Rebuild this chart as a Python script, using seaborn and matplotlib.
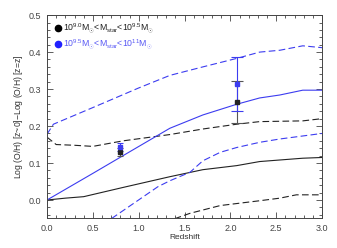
import numpy as np
import pandas as pd
import seaborn as sns
import matplotlib.pyplot as plt
from matplotlib.ticker import MultipleLocator
from matplotlib.lines import Line2D

# curves
z_bs = [0.0, 0.2, 0.4, 0.83, 1.34, 1.7, 2.07, 2.32, 2.79, 3.0]
bs = [0.0, 0.005, 0.009, 0.034, 0.063, 0.082, 0.093, 0.104, 0.113, 0.115]

z_bdu = [0.0, 0.1, 0.3, 0.5, 0.83, 1.34, 1.7, 2.07, 2.32, 2.79, 3.0]
bdu = [0.17, 0.15, 0.148, 0.145, 0.16, 0.177, 0.192, 0.205, 0.212, 0.214, 0.22]

z_bdl = [1.3, 1.4, 1.56, 1.89, 2.32, 2.54, 2.72, 3.0]
bdl = [-0.065, -0.05, -0.036, -0.015, -0.002, 0.005, 0.014, 0.014]

z_us = [0.0, 0.5, 0.83, 1.34, 1.7, 2.07, 2.32, 2.54, 2.79, 3.0]
us = [0.0, 0.072, 0.12, 0.194, 0.23, 0.259, 0.276, 0.284, 0.297, 0.297]

z_udu = [0.0, 0.07, 0.5, 1.0, 1.34, 1.7, 2.07, 2.32, 2.54, 2.79, 3.0]
udu = [0.178, 0.205, 0.25, 0.303, 0.337, 0.36, 0.383, 0.4, 0.405, 0.417, 0.412]

z_udl = [0.705, 1.21, 1.34, 1.56, 1.7, 1.89, 2.07, 2.32, 2.54, 3.0]
udl = [-0.05, 0.036, 0.052, 0.075, 0.106, 0.129, 0.142, 0.156, 0.165, 0.18]

# observed points
obs_z_black = [0.8, 2.07]
obs_black = [0.13, 0.265]
obs_black_err = [0.01, 0.057]
obs_z_blue = [0.8, 2.07]
obs_blue = [0.143, 0.313]
obs_blue_err = [0.01, 0.073]

black = '#222222'
blue = '#3c3cf0'

sns.set_style('ticks')
plt.rcParams['font.family'] = ['Liberation Sans', 'DejaVu Sans']
plt.rcParams['mathtext.fontset'] = 'custom'
plt.rcParams['mathtext.rm'] = 'Liberation Sans'

fig = plt.figure(figsize=(3.37, 2.48), dpi=100)
ax = fig.add_axes([0.1395, 0.119, 0.816, 0.82])

sns.lineplot(x=z_bs, y=bs, ax=ax, color=black, lw=0.8)
sns.lineplot(x=z_bdu, y=bdu, ax=ax, color=black, lw=0.8, linestyle=(0, (6, 3)))
sns.lineplot(x=z_bdl, y=bdl, ax=ax, color=black, lw=0.8, linestyle=(0, (6, 3)))
sns.lineplot(x=z_us, y=us, ax=ax, color=blue, lw=0.8)
sns.lineplot(x=z_udu, y=udu, ax=ax, color=blue, lw=0.8, linestyle=(0, (6, 3)))
sns.lineplot(x=z_udl, y=udl, ax=ax, color=blue, lw=0.8, linestyle=(0, (6, 3)))

caps = [2.0, 4.5]
for i in range(len(obs_z_black)):
    ax.errorbar(obs_z_black[i], obs_black[i], yerr=obs_black_err[i], fmt='s', ms=2.2,
                color=black, ecolor='#555555', elinewidth=0.8, capsize=caps[i], capthick=0.8)
    ax.errorbar(obs_z_blue[i], obs_blue[i], yerr=obs_blue_err[i], fmt='s', ms=2.2,
                color=blue, ecolor=blue, elinewidth=0.8, capsize=caps[i], capthick=0.8)

ax.set_xlim(0, 3.0)
ax.set_ylim(-0.05, 0.5)
ax.xaxis.set_major_locator(MultipleLocator(0.5))
ax.xaxis.set_minor_locator(MultipleLocator(0.1))
ax.yaxis.set_major_locator(MultipleLocator(0.1))
ax.yaxis.set_minor_locator(MultipleLocator(0.02))
ax.tick_params(which='both', direction='in', top=True, right=True,
               colors='#444444', labelsize=6.5, width=0.6)
ax.tick_params(which='major', length=4, pad=4)
ax.tick_params(which='minor', length=2)
for s in ax.spines.values():
    s.set_color('#444444')
    s.set_linewidth(0.7)

ax.set_xlabel('Redshift', fontsize=6, color='#333333', labelpad=1)
ax.set_ylabel('Log (O/H) [z~0]$-$Log (O/H) [z=z]', fontsize=6.2, color='#333333', labelpad=3)

handles = [
    Line2D([], [], marker='o', ls='', color='black', ms=4.5),
    Line2D([], [], marker='o', ls='', color='#2020ff', ms=4.5),
]
labels = [r'10$^{9.0}$M$_{\odot}$<M$_{\rm star}$<10$^{9.5}$M$_{\odot}$',
          r'10$^{9.5}$M$_{\odot}$<M$_{\rm star}$<10$^{11}$M$_{\odot}$']
leg = ax.legend(handles, labels, loc='upper left', frameon=False, fontsize=6.3,
                handletextpad=0.1, borderaxespad=0.3, labelspacing=0.25, handlelength=1.0)
leg.get_texts()[0].set_color('#222222')
leg.get_texts()[1].set_color('#5a5af5')

fig.savefig('out.png', dpi=100)
